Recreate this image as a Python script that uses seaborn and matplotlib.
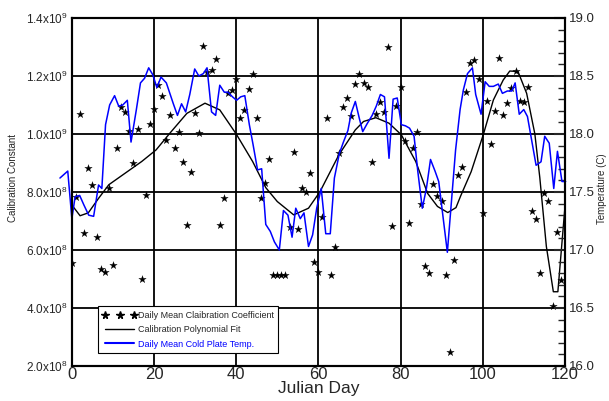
import numpy as np
import matplotlib
matplotlib.use('Agg')
import matplotlib.pyplot as plt
import seaborn as sns
from matplotlib.ticker import FuncFormatter, MultipleLocator
from matplotlib.lines import Line2D

# daily mean calibration coefficient (x1e8), one per Julian day 0..119
coef_day = np.arange(0, 120)
coef_val = np.array([
    5.55, 7.82, 10.70, 6.60, 8.84, 8.23, 6.45, 5.35, 5.23, 8.15,
    5.48, 9.53, 10.93, 10.77, 10.11, 8.99, 10.18, 4.99, 7.90, 10.33,
    10.86, 11.69, 11.31, 9.79, 10.66, 9.53, 10.06, 9.05, 6.85, 8.70,
    10.71, 10.02, 13.03, 12.15, 12.21, 12.58, 6.85, 7.80, 11.42, 11.52,
    11.89, 10.56, 10.83, 11.55, 12.06, 10.54, 7.78, 8.30, 9.14, 5.14,
    5.14, 5.14, 5.14, 6.78, 9.39, 6.71, 8.15, 8.01, 8.64, 5.58,
    5.25, 7.13, 10.54, 5.14, 6.09, 9.33, 10.94, 11.23, 10.63, 11.72,
    12.06, 11.75, 11.63, 9.05, 10.68, 11.09, 10.77, 13.01, 6.84, 10.98,
    11.63, 9.77, 6.92, 9.53, 10.08, 7.58, 5.46, 5.20, 8.29, 7.87,
    7.70, 5.14, 2.49, 5.66, 8.59, 8.87, 11.46, 12.44, 12.55, 11.89,
    7.27, 11.15, 9.66, 10.80, 12.61, 10.66, 11.08, 11.58, 12.17, 11.14,
    11.09, 11.63, 7.34, 7.07, 5.20, 7.96, 7.69, 4.08, 6.61, 4.97]) * 1e8

# polynomial fit (x1e8)
fit_day = [0, 2, 4, 6.5, 9, 13, 17, 20.5, 24, 28, 32.4, 36, 40, 44, 47.2,
           50, 54, 57.6, 60.4, 65, 69, 71, 74, 77.2, 80.2, 83.7, 86.6, 89,
           91.5, 93.5, 94.6, 97.2, 100.2, 102.6, 105, 106.6, 108.6, 110.7,
           112.7, 113.9, 115.5, 117.2, 118.3, 120]
fit_val = np.array([7.55, 7.18, 7.28, 7.78, 8.25, 8.65, 9.05, 9.45, 10.05,
                    10.71, 11.06, 10.83, 10.0, 9.05, 8.15, 7.67, 7.21, 7.44,
                    8.01, 9.28, 10.14, 10.43, 10.56, 10.37, 9.97, 9.05, 7.95,
                    7.5, 7.29, 7.46, 7.85, 8.7, 10.0, 11.17, 11.86, 12.17,
                    12.15, 11.4, 10.0, 8.5, 6.12, 4.56, 4.56, 7.44]) * 1e8

# daily mean cold plate temperature (C)
temp_day = [-2.9, -1.0, 0.0, 0.8, 1.9, 2.9, 4.1, 5.3, 6.5, 7.3, 8.2, 9.2, 10.4,
            11.4, 12.4, 13.5, 14.4, 15.7, 16.7, 17.7, 18.7, 19.7, 20.7, 21.7,
            23.0, 24.7, 25.7, 26.7, 27.7, 28.7, 29.9, 30.9, 32.0, 32.9, 34.0,
            35.0, 36.0, 37.1, 38.0, 39.1, 40.1, 41.1, 42.1, 43.2, 44.1, 45.2,
            46.2, 47.2, 48.3, 49.3, 50.5, 51.5, 52.6, 53.6, 54.5, 55.6, 56.5,
            57.6, 58.6, 59.6, 60.7, 61.8, 62.9, 63.9, 65.1, 66.1, 67.2, 68.0,
            69.0, 70.0, 70.8, 71.9, 73.1, 74.1, 75.1, 76.1, 77.2, 78.2, 79.2,
            80.2, 81.2, 82.2, 83.3, 84.2, 85.3, 86.3, 87.3, 88.4, 89.3, 90.4,
            91.4, 92.4, 93.4, 94.5, 95.3, 96.3, 97.5, 98.3, 99.6, 100.6, 101.6,
            102.6, 103.8, 104.8, 106.0, 107.1, 107.9, 108.9, 110.0, 110.9,
            112.0, 113.0, 114.2, 115.1, 116.2, 117.3, 118.2, 119.3, 120.2]
temp_val = [17.62, 17.68, 17.27, 17.46, 17.47, 17.39, 17.30, 17.29, 17.56,
            17.53, 18.08, 18.25, 18.33, 18.24, 18.25, 18.29, 17.93, 18.21,
            18.44, 18.48, 18.57, 18.51, 18.40, 18.49, 18.44, 18.26, 18.16,
            18.26, 18.19, 18.34, 18.56, 18.50, 18.52, 18.57, 18.19, 18.16,
            18.42, 18.36, 18.36, 18.32, 18.29, 18.32, 18.33, 18.08, 17.91,
            17.69, 17.70, 17.22, 17.16, 17.07, 17.00, 17.34, 17.30, 17.11,
            17.36, 17.27, 17.32, 17.03, 17.13, 17.36, 17.53, 17.14, 17.14,
            17.62, 17.83, 17.93, 18.03, 18.18, 18.28, 18.13, 18.02, 18.09,
            18.16, 18.24, 18.34, 18.32, 17.79, 18.30, 18.31, 18.08, 18.07,
            18.05, 17.98, 17.68, 17.36, 17.53, 17.78, 17.68, 17.59, 17.27,
            16.98, 17.42, 17.86, 18.21, 18.38, 18.52, 18.57, 18.34, 18.17,
            18.45, 18.41, 18.41, 18.43, 18.35, 18.37, 18.37, 18.44, 18.17,
            18.21, 18.15, 17.93, 17.73, 17.76, 17.98, 17.92, 17.53, 17.85,
            17.59, 17.59]

legend_labels = ['Daily Mean Claibration Coefficient',
                 'Calibration Polynomial Fit',
                 'Daily Mean Cold Plate Temp.']

sns.set_style('white')
plt.rcParams['font.family'] = ['Liberation Sans', 'DejaVu Sans']
plt.rcParams['mathtext.fontset'] = 'custom'
plt.rcParams['mathtext.rm'] = 'Liberation Sans'
plt.rcParams['mathtext.it'] = 'Liberation Sans'

fig = plt.figure(figsize=(6.09, 4.01), dpi=100)
ax = fig.add_axes([0.118, 0.0873, 0.8095, 0.868])

sns.scatterplot(x=coef_day, y=coef_val, marker='*', s=32, color='black',
                edgecolor='black', linewidth=0.2, ax=ax, zorder=3)
sns.lineplot(x=fit_day, y=fit_val, color='black', lw=1.0, sort=False,
             estimator=None, ax=ax, zorder=3)


def sci_fmt(v, pos):
    if v <= 0:
        return ''
    e = int(np.floor(np.log10(v) + 1e-9))
    m = v / 10 ** e
    return f'{m:.1f}x10$^{{{e}}}$'


ax2 = ax.twinx()
sns.lineplot(x=temp_day, y=temp_val, color='#0000ff', lw=1.1, sort=False,
             estimator=None, ax=ax2)
for ln in ax2.lines:
    ln.set_clip_on(False)

ax.set_xlim(0, 120)
ax.set_ylim(2e8, 1.4e9)
ax.xaxis.set_major_locator(MultipleLocator(20))
ax.yaxis.set_major_locator(MultipleLocator(2e8))
ax.yaxis.set_major_formatter(FuncFormatter(sci_fmt))
ax.grid(True, color='black', lw=1.3)
ax.tick_params(axis='y', length=0, labelsize=8.5, pad=3)
ax.tick_params(axis='x', direction='in', length=4, labelsize=12, pad=1)
ax.set_xlabel('Julian Day', fontsize=12.5, labelpad=-1)
ax.set_ylabel('Calibration Constant', fontsize=7)
ax.yaxis.set_label_coords(-0.11, 0.54)
for s in ax.spines.values():
    s.set_color('black')
    s.set_linewidth(1.5)

ax2.set_ylim(16, 19)
ax2.yaxis.set_major_locator(MultipleLocator(0.5))
ax2.yaxis.set_minor_locator(MultipleLocator(0.1))
ax2.yaxis.set_major_formatter(FuncFormatter(lambda v, p: f'{v:.1f}'))
ax2.tick_params(axis='y', which='major', direction='in', length=8, width=1.5,
                labelsize=9.5, pad=3)
ax2.tick_params(axis='y', which='minor', direction='in', length=5, width=1)
ax2.set_ylabel('Temperature (C)', fontsize=7)
ax2.yaxis.set_label_coords(1.066, 0.51)
for s in ax2.spines.values():
    s.set_linewidth(1.5)
    s.set_color('black')

handles = [Line2D([], [], marker='*', ls='none', color='black', ms=5.5),
           Line2D([], [], color='black', lw=1.0),
           Line2D([], [], color='#0000ff', lw=1.5)]
leg = ax2.legend(handles, legend_labels, loc='lower left',
                 bbox_to_anchor=(0.053, 0.037), borderaxespad=0,
                 numpoints=3, fontsize=6.5, handlelength=3.8,
                 handletextpad=0.1, labelspacing=0.6, borderpad=0.5,
                 fancybox=False, framealpha=1, edgecolor='black')
leg.get_frame().set_linewidth(0.8)
leg.get_texts()[2].set_color('#0000ff')

fig.savefig('out.png', dpi=100)
